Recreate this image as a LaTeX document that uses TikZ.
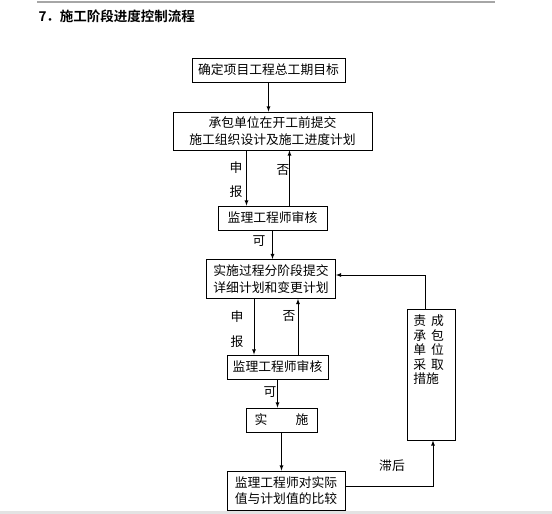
\documentclass[tikz,border=0pt]{standalone}
\usepackage{fontspec}
\setmainfont{Noto Sans CJK SC}
\newfontfamily\titlefont{Noto Sans CJK SC Bold}
\usetikzlibrary{arrows}

\begin{document}
\begin{tikzpicture}[x=1pt, y=-1pt,
    box/.style={draw, line width=0.8pt, inner sep=0pt, align=center,
        font=\fontsize{12.8}{16.5}\selectfont},
    arr/.style={-latex, line width=0.8pt},
    lbl/.style={font=\fontsize{12.8}{15}\selectfont}]
\useasboundingbox (0,0) rectangle (552,514);
% page rules
\draw[gray!70, line width=1.2pt] (37,2) -- (495,2);
\fill[gray!22] (0,511) rectangle (552,514);
\node[anchor=west, font=\titlefont\fontsize{13.5}{16}\selectfont] (title) at (35,16) {7．施工阶段进度控制流程};

% main column
\node[box, minimum width=153, minimum height=24] (goal) at (268.5,70) {确定项目工程总工期目标};
\node[box, minimum width=199, minimum height=38] (plan) at (272.5,131) {承包单位在开工前提交\\施工组织设计及施工进度计划};
\node[box, minimum width=109, minimum height=24] (check1) at (272.5,218) {监理工程师审核};
\node[box, minimum width=129, minimum height=39] (stage) at (271,279) {实施过程分阶段提交\\详细计划和变更计划};
\node[box, minimum width=101, minimum height=24] (check2) at (277.5,367) {监理工程师审核};
\node[box, minimum width=71, minimum height=24] (act) at (281.5,420) {实\hspace{2.2em}施};
\node[box, minimum width=118, minimum height=39] (compare) at (286,490.5) {监理工程师对实际\\值与计划值的比较};

% feedback box, text sits at the top
\node[box, minimum width=48, minimum height=131] (fix) at (431,374.5) {};
\node[lbl, align=left, anchor=north west, inner sep=0pt, font=\fontsize{12.8}{14.5}\selectfont] (fixtext)
    at ([xshift=6.5pt, yshift=-6pt]fix.north west)
    {责\hspace{5pt}成\\承\hspace{5pt}包\\单\hspace{5pt}位\\采\hspace{5pt}取\\措施};

% arrows
\draw[arr] (goal.south) -- (goal.south |- plan.north);
\draw[arr] ([xshift=-26pt]check1.north |- plan.south) -- ([xshift=-26pt]check1.north);
\draw[arr] ([xshift=17pt]check1.north) -- ([xshift=17pt]check1.north |- plan.south);
\draw[arr] (check1.south) -- (check1.south |- stage.north);
\draw[arr] ([xshift=-23.5pt]check2.north |- stage.south) -- ([xshift=-23.5pt]check2.north);
\draw[arr] ([xshift=20.5pt]check2.north) -- ([xshift=20.5pt]check2.north |- stage.south);
\draw[arr] (check2.south) -- (check2.south |- act.north);
\draw[arr] (act.south) -- (act.south |- compare.north);
\draw[arr] ([yshift=4.5pt]compare.east) -| ([xshift=2pt]fix.south);
\draw[arr] ([xshift=-6pt]fix.north) |- ([yshift=4pt]stage.east);

% labels
\node[lbl] (l1) at (236,168) {申};
\node[lbl] (l2) at (236,192) {报};
\node[lbl] (l3) at (283,170) {否};
\node[lbl] (l4) at (259,241) {可};
\node[lbl] (l5) at (237,317) {申};
\node[lbl] (l6) at (237,342) {报};
\node[lbl] (l7) at (289,316) {否};
\node[lbl] (l8) at (270,392) {可};
\node[lbl] (l9) at (392,466) {滞后};
\end{tikzpicture}
\end{document}
